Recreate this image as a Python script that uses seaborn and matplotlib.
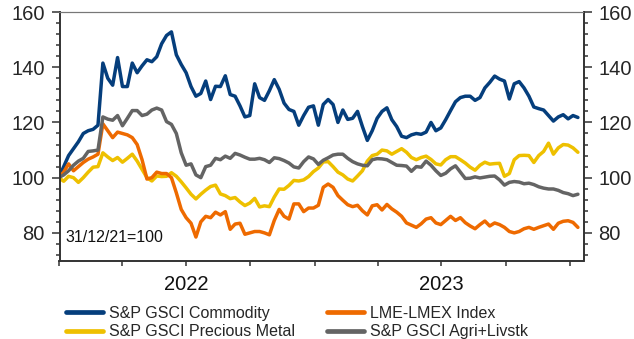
import matplotlib
matplotlib.use("Agg")
import matplotlib.pyplot as plt
import matplotlib.dates as mdates
import matplotlib.transforms as mtransforms
from matplotlib.ticker import MultipleLocator, FixedLocator, NullFormatter
import seaborn as sns
import pandas as pd
import numpy as np

# ---------------- data (weekly, 31/12/21 = 100) ----------------
start_date = "2021-12-31"
n_weeks = 107

series_names = ["S&P GSCI Commodity", "S&P GSCI Precious Metal",
                "LME-LMEX Index", "S&P GSCI Agri+Livstk"]

gsci_commodity = [
    100, 104, 108, 110.5, 113, 116, 117, 117.5, 119, 141.5,
    136, 133.5, 143.5, 133, 133, 141.5, 138, 140.5, 142.7, 142,
    143.8, 148.5, 151.5, 152.8, 144.5, 141, 138, 133, 129.5, 130.5,
    135, 128.3, 133.1, 133, 136.9, 130.1, 129.5, 126, 122, 122.5,
    134, 129, 128, 131.5, 135.5, 132, 127, 124.7, 124, 119,
    122.5, 125.5, 126, 119, 126.5, 128.3, 126.5, 120, 124.5, 121.1,
    121.5, 124, 118.5, 113.5, 117, 121.5, 124, 125.3, 121, 118.5,
    115, 114.5, 115.5, 116, 115.7, 116.5, 120, 117, 118, 121,
    124.3, 127.5, 129, 129.5, 129.5, 128, 129, 132.5, 134.5, 136.8,
    135.7, 135, 128.5, 134, 134.8, 132.5, 129.5, 125.6, 125, 124.5,
    122.5, 120.5, 122, 122.8, 121.3, 122.5, 121.8,
]

gsci_precious = [
    100, 98.7, 100.5, 100, 98.3, 100, 102, 103.8, 104, 109,
    107.5, 106.2, 107.3, 105.6, 107, 108.5, 106, 103, 100, 98.8,
    100.6, 100.4, 100.5, 101.8, 100.5, 98.5, 96.3, 94, 92.3, 94,
    95.5, 96.8, 97.3, 94.1, 93.5, 92.4, 92.8, 91.2, 89.9, 90.8,
    92.5, 89.4, 89.8, 89.5, 93, 95.9, 95.8, 97.2, 99, 98.8,
    99.2, 100.4, 102.2, 103.5, 105.7, 105.8, 104, 102, 101, 99.5,
    98.8, 100.6, 102.5, 106, 108, 108.5, 110, 109.7, 108.5, 109.5,
    110.5, 109.2, 107.3, 106.5, 107.3, 107.8, 106.6, 105, 104.6, 106.5,
    107.6, 107.6, 106.5, 105.3, 103.8, 102.7, 104.5, 105.6, 104.9, 105.1,
    105.2, 100.5, 101.5, 106.5, 108, 108.1, 108, 105.5, 108, 109.5,
    112.5, 108.5, 110.8, 112, 111.8, 110.8, 109.2,
]

lme_lmex = [
    100, 102, 105, 102.5, 104, 105.5, 106.7, 107.5, 108.5, 119.5,
    117, 114.5, 116.5, 116, 115.5, 114.5, 112, 106.5, 99.5, 100,
    102, 101.5, 101.5, 100, 94.5, 88.5, 85.5, 83.5, 78.5, 84,
    86, 85.5, 87.5, 86.5, 87.7, 81.3, 83.2, 83.5, 79.5, 80,
    80.5, 80.5, 80, 79.3, 84.5, 88.5, 86, 85, 90.5, 90.5,
    87.7, 89, 89, 90, 96.5, 97.7, 96.5, 93.5, 91.8, 90.2,
    89.5, 90, 88, 86.5, 89.8, 90.2, 88.3, 90.3, 88.7, 87.5,
    86, 83.6, 82.8, 82.0, 83.3, 85, 85.5, 83.6, 83, 84.5,
    86, 84.5, 85.5, 83.7, 82.5, 81.5, 83, 84.3, 82.5, 83.6,
    83, 82, 80.5, 80, 80.5, 81.5, 82, 81.3, 82, 82.6,
    83.2, 81.3, 83.5, 84.2, 84.4, 83.8, 82.0,
]

gsci_agri = [
    100, 101, 102.5, 104.5, 106, 107, 109.5, 109.7, 110, 122,
    121.2, 120.8, 122.5, 118.8, 121.5, 124.3, 124.3, 122.5, 123, 124.5,
    125.2, 124.5, 120.3, 119.3, 116, 109, 104.5, 105, 101, 100,
    104, 104.5, 107, 106.5, 107.8, 107, 108.8, 108.2, 107.4, 106.7,
    106.7, 107, 106.5, 105.5, 107.2, 106.9, 106.2, 105.3, 103.9, 103.5,
    105.8, 107.5, 106.8, 104.8, 106.3, 107.2, 108.2, 108.5, 108.5, 107,
    105.8, 105, 104.5, 104.3, 106.5, 106.9, 106.8, 106.5, 105.5, 104.5,
    104.4, 104.2, 102.3, 104, 103.8, 106, 104.5, 102.5, 100.8, 101.6,
    103.2, 104.3, 102, 99.7, 99.8, 100.3, 99.9, 100.2, 100.5, 100.6,
    99.2, 97.3, 98.3, 98.6, 98.4, 97.8, 98, 97.5, 96.7, 96.2,
    95.9, 95.9, 95.4, 94.6, 94.2, 93.5, 94.0,
]

y_ticks = [80, 100, 120, 140, 160]
year_labels = ["2022", "2023"]
note_text = "31/12/21=100"

colors = {
    "S&P GSCI Commodity": "#053E7C",
    "S&P GSCI Precious Metal": "#EEC000",
    "LME-LMEX Index": "#EE6A00",
    "S&P GSCI Agri+Livstk": "#646464",
}

# ---------------- build tidy frame ----------------
dates = pd.date_range(start_date, periods=n_weeks, freq="7D")
frames = []
for name, vals in zip(series_names,
                      [gsci_commodity, gsci_precious, lme_lmex, gsci_agri]):
    frames.append(pd.DataFrame({"date": dates, "value": vals, "series": name}))
df = pd.concat(frames, ignore_index=True)

# ---------------- figure ----------------
sns.set_style("ticks")
plt.rcParams["font.family"] = ["Liberation Sans", "DejaVu Sans"]

W, H = 634, 339
fig = plt.figure(figsize=(W / 100, H / 100), dpi=100)
left_px, right_px, top_px, bottom_px = 59.5, 583.5, 12, 260.5
ax = fig.add_axes([left_px / W, 1 - bottom_px / H,
                   (right_px - left_px) / W, (bottom_px - top_px) / H])

sns.lineplot(data=df, x="date", y="value", hue="series",
             hue_order=series_names, palette=colors,
             linewidth=2.5, ax=ax, legend=True)

ax.set_xlim(pd.Timestamp("2022-01-01"), pd.Timestamp("2024-01-20"))
ax.set_ylim(70, 160)
ax.set_xlabel("")
ax.set_ylabel("")

# y axes (left + right)
ax2 = ax.twinx()
ax2.set_ylim(70, 160)
for a in (ax, ax2):
    a.yaxis.set_major_locator(FixedLocator(y_ticks))
    a.yaxis.set_minor_locator(MultipleLocator(4))
    a.tick_params(axis="y", which="major", length=5.5, width=1.1,
                  color="#333333", labelsize=14.5, pad=5)
    a.tick_params(axis="y", which="minor", length=3, width=1.1,
                  color="#333333")
ax.set_yticklabels([str(v) for v in y_ticks])
ax2.set_yticklabels([str(v) for v in y_ticks])

# x axis: quarter ticks, year labels centred in each year
ax.xaxis.set_major_locator(mdates.MonthLocator(bymonth=[1, 4, 7, 10]))
ax.xaxis.set_major_formatter(NullFormatter())
ax.tick_params(axis="x", which="major", length=3.5, width=1.1,
               color="#333333")
trans = mtransforms.blended_transform_factory(ax.transData, fig.transFigure)
for yr in year_labels:
    ax.text(mdates.date2num(pd.Timestamp(f"{yr}-07-01")), 1 - 285 / H, yr,
            transform=trans, ha="center", va="center", fontsize=14.5,
            color="#111111")

ax.text(65 / W, 1 - 237.5 / H, note_text, transform=fig.transFigure,
        ha="left", va="center", fontsize=11.5, color="#111111")

for a in (ax, ax2):
    for s in ["left", "right", "bottom"]:
        a.spines[s].set_color("#333333")
        a.spines[s].set_linewidth(1.2)
    a.spines["top"].set_color("#777777")
    a.spines["top"].set_linewidth(0.8)

# legend below
sns.move_legend(ax, "upper left", bbox_to_anchor=(66 / W, 1 - 306 / H),
                bbox_transform=fig.transFigure, ncol=2, frameon=False,
                title=None, fontsize=11.5, handlelength=2.3,
                handletextpad=0.4, columnspacing=2.0, labelspacing=0.2,
                borderaxespad=0, borderpad=0)
for line in ax.get_legend().get_lines():
    line.set_linewidth(3.4)

fig.savefig("out.png", dpi=100)
